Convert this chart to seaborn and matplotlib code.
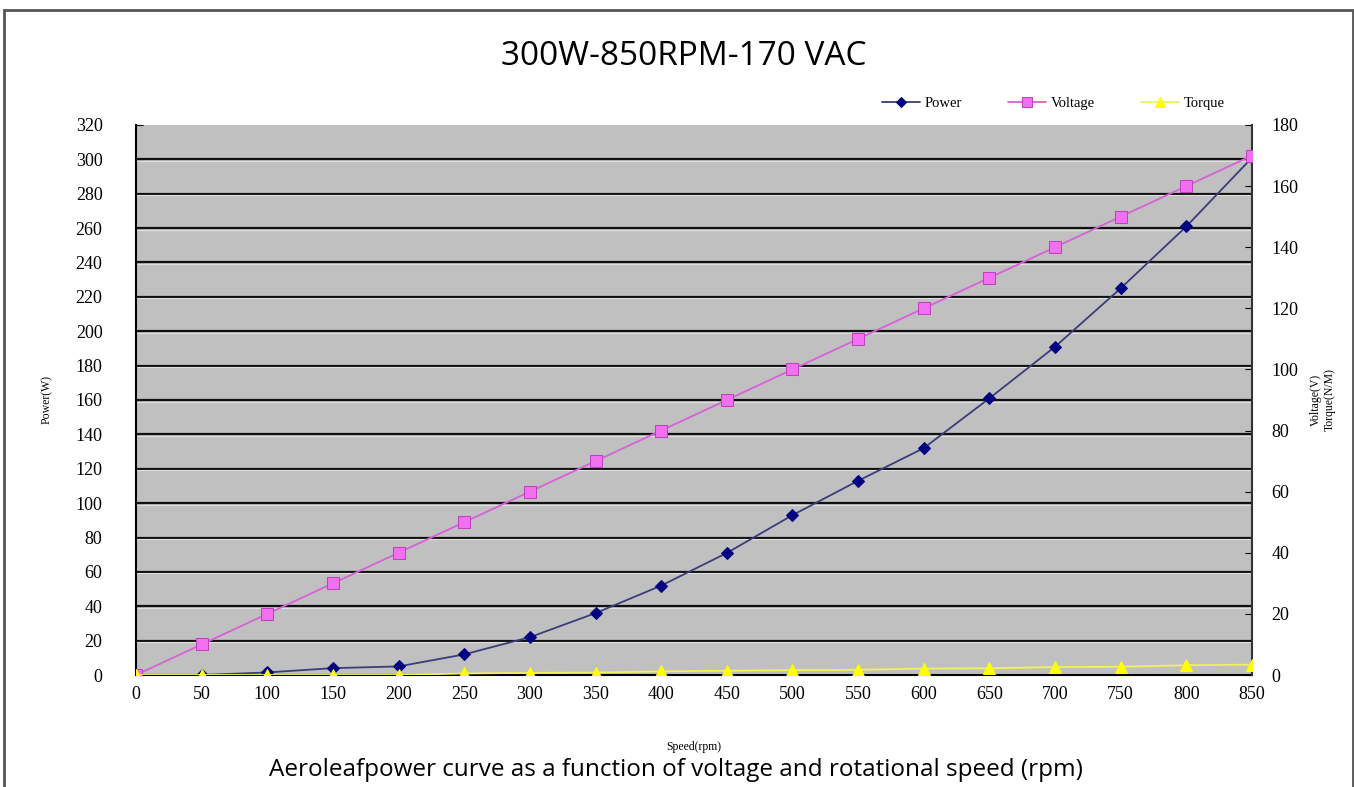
import numpy as np
import pandas as pd
import matplotlib
matplotlib.use('Agg')
import matplotlib.pyplot as plt
from matplotlib.patches import Rectangle
import seaborn as sns

# values
speed = [0, 50, 100, 150, 200, 250, 300, 350, 400, 450, 500, 550, 600, 650, 700, 750, 800, 850]
power = [0, 0, 1.5, 4, 5, 12, 22, 36, 52, 71, 93, 113, 132, 161, 191, 225, 261, 301]
voltage = [0, 10, 20, 30, 40, 50, 60, 70, 80, 90, 100, 110, 120, 130, 140, 150, 160, 170]
torque = [0, 0, 0, 0, 0, 0.5, 0.7, 0.8, 1.2, 1.4, 1.6, 1.7, 2.1, 2.2, 2.6, 2.7, 3.2, 3.4]

df = pd.DataFrame({'Speed': speed, 'Power': power, 'Voltage': voltage, 'Torque': torque})

sns.set_style('white')
plt.rcParams['font.family'] = ['Liberation Serif', 'DejaVu Serif']
plt.rcParams['text.color'] = 'black'
plt.rcParams['axes.labelcolor'] = 'black'

fig = plt.figure(figsize=(13.54, 7.87), dpi=100)
ax = fig.add_axes([0.1004, 0.1423, 0.8243, 0.6989])
ax.set_facecolor('#c0c0c0')

# power on the left axis
sns.lineplot(data=df, x='Speed', y='Power', ax=ax, color='#3a3d7a', lw=1.3,
             marker='D', markersize=6.5, markerfacecolor='#000080', markeredgecolor='#000080',
             label='Power', legend=False, zorder=5)
ax.set_xlim(0, 850)
ax.set_ylim(0, 320)
ax.set_xticks(range(0, 851, 50))
ax.set_yticks(range(0, 321, 20))
for yv in range(20, 320, 20):
    ax.axhline(yv, color='#111111', lw=1.6, zorder=1)
    ax.axhline(yv - 0.9, color='#e0e0e0', lw=0.8, zorder=1)
ax.tick_params(direction='in', length=5, labelsize=13, colors='black')
ax.tick_params(axis='y', pad=24)
ax.tick_params(axis='x', pad=8)
ax.set_xlabel('Speed(rpm)', fontsize=8.5, labelpad=27)
ax.set_ylabel('Power(W)', fontsize=8.5, labelpad=16)
for s in ['left', 'bottom']:
    ax.spines[s].set_color('black')
    ax.spines[s].set_linewidth(1.5)
ax.spines['top'].set_visible(False)
ax.spines['right'].set_visible(False)

# voltage and torque on the right axis
ax2 = ax.twinx()
sns.lineplot(data=df, x='Speed', y='Voltage', ax=ax2, color='#d860d8', lw=1.3,
             marker='s', markersize=8.5, markerfacecolor='#f070f0', markeredgecolor='#c040c0',
             label='Voltage', legend=False, zorder=6)
sns.lineplot(data=df, x='Speed', y='Torque', ax=ax2, color='#f2f25a', lw=1.3,
             marker='^', markersize=9, markerfacecolor='#ffff00', markeredgecolor='#ffff00',
             label='Torque', legend=False, zorder=6)
ax2.set_ylim(0, 180)
ax2.set_yticks(range(0, 181, 20))
ax2.tick_params(direction='in', length=5, labelsize=13, colors='black', pad=14)
ax2.set_ylabel('Voltage(V)\nTorque(N/M)', fontsize=8.5, labelpad=8)
ax2.spines['top'].set_visible(False)
ax2.spines['left'].set_visible(False)
ax2.spines['bottom'].set_visible(False)
ax2.spines['right'].set_color('#333333')
ax2.spines['right'].set_linewidth(1.5)

h1, l1 = ax.get_legend_handles_labels()
h2, l2 = ax2.get_legend_handles_labels()
fig.legend(h1 + h2, l1 + l2, loc='center', bbox_to_anchor=(0.778, 0.869), ncol=3,
           frameon=False, fontsize=10.5, handlelength=2.6, columnspacing=3.2,
           handletextpad=0.3, markerscale=0.8)

fig.text(0.505, 0.928, '300W-850RPM-170 VAC', ha='center', va='center', fontsize=24,
         family=['Open Sans', 'DejaVu Sans'])
fig.text(0.499, 0.022, 'Aeroleafpower curve as a function of voltage and rotational speed (rpm)',
         ha='center', va='center', fontsize=17.5, family=['Open Sans', 'DejaVu Sans'])

# outer frame
fig.patches.append(Rectangle((0.003, -0.01), 0.996, 0.997, transform=fig.transFigure,
                             fill=False, edgecolor='#555555', lw=2))

fig.savefig('out.png', dpi=100)
